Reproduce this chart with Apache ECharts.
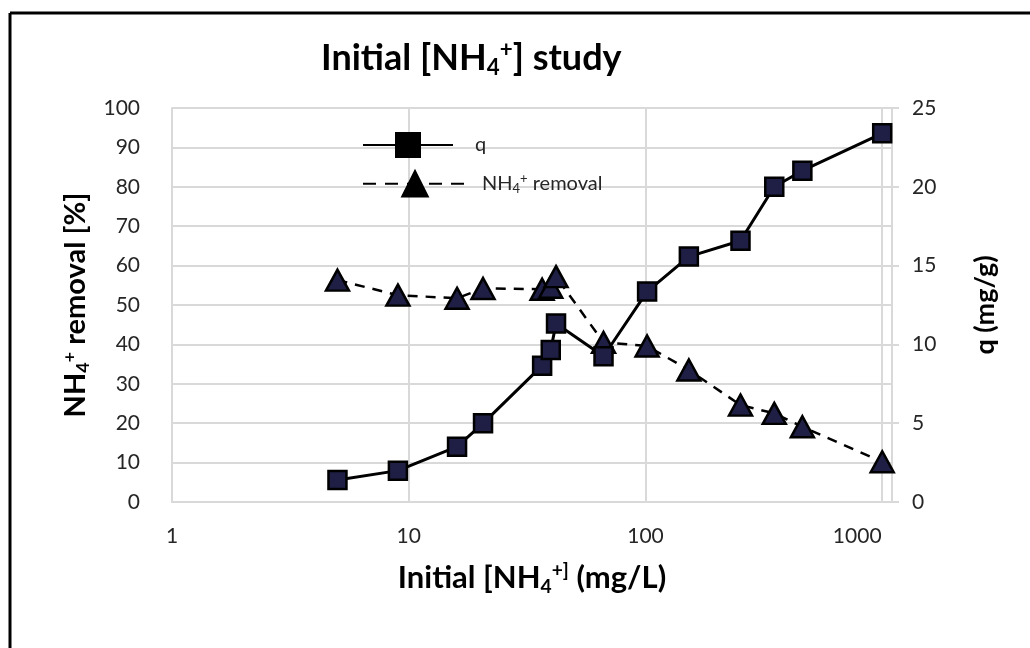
<!DOCTYPE html>
<html>
<head>
<meta charset="utf-8">
<script src="https://cdn.jsdelivr.net/npm/echarts@6/dist/echarts.min.js"></script>
<style>
  html, body { margin: 0; padding: 0; background: #fff; }
  #chart { width: 1030px; height: 648px; }
</style>
</head>
<body>
<div id="chart"></div>
<script>
// Initial ammonium concentration (mg/L)
const initialConc = [5, 9, 16, 20.6, 36.6, 39.8, 41.9, 66.5, 101.6, 152.5, 252, 350, 460, 1000];
// Adsorption capacity q (mg/g)
const qValues = [1.40, 1.99, 3.51, 4.99, 8.65, 9.64, 11.32, 9.25, 13.35, 15.57, 16.58, 20.0, 21.02, 23.39];
// NH4+ removal (%)
const removalValues = [56.3, 52.5, 51.7, 54.2, 54.0, 54.5, 57.2, 40.5, 39.6, 33.5, 24.6, 22.5, 19.1, 10.2];
// Tick labels
const xTicks = [1, 10, 100, 1000];
const leftTicks = [0, 10, 20, 30, 40, 50, 60, 70, 80, 90, 100];
const rightTicks = [0, 5, 10, 15, 20, 25];

const FONT = 'Lato';
const GRID_COLOR = '#d9d9d9';
const MARK_FILL = '#1f1f45';
const LABEL_COLOR = '#262626';

const pair = (xs, ys) => xs.map((x, i) => [x, ys[i]]);

const subSup = (size) => ({
  sub: { fontSize: size * 0.62, fontFamily: FONT, fontWeight: 'bold', color: '#000', padding: [size * 0.55, 0, 0, 0] },
  sup: { fontSize: size * 0.62, fontFamily: FONT, fontWeight: 'bold', color: '#000', padding: [0, 0, size * 0.45, 0] }
});

const chart = echarts.init(document.getElementById('chart'), null, { renderer: 'canvas' });

chart.setOption({
  backgroundColor: '#fff',
  animation: false,
  title: {
    text: '{a|Initial [NH}{sub|4}{sup|+}{a|] study}',
    left: 316,
    top: 32,
    textStyle: {
      rich: Object.assign({ a: { fontSize: 36, fontFamily: FONT, fontWeight: 'bold', color: '#000' } }, subSup(36))
    }
  },
  graphic: [
    { type: 'line', shape: { x1: 10, y1: 13, x2: 1030, y2: 13 }, style: { stroke: '#000', lineWidth: 3 } },
    { type: 'line', shape: { x1: 10, y1: 13, x2: 10, y2: 648 }, style: { stroke: '#000', lineWidth: 3 } }
  ],
  grid: { left: 172, right: 138, top: 108, bottom: 146 },
  legend: [
    {
      data: ['q'], left: 362, top: 132, padding: 0, itemWidth: 90, itemHeight: 30,
      itemStyle: { color: '#000', borderColor: '#000' },
      textStyle: { fontFamily: FONT, fontSize: 20, color: LABEL_COLOR, padding: [0, 0, 0, 17] }
    },
    {
      data: ['NH4+ removal'], left: 362, top: 170, padding: 0, itemWidth: 104, itemHeight: 32,
      itemStyle: { color: '#000', borderColor: '#000' },
      lineStyle: { type: [13, 9] },
      formatter: () => 'NH{sub|4}{sup|+} removal',
      textStyle: {
        fontFamily: FONT, fontSize: 20, color: LABEL_COLOR, padding: [0, 0, 0, 10],
        rich: {
          sub: { fontSize: 13, fontFamily: FONT, color: LABEL_COLOR, padding: [11, 0, 0, 0] },
          sup: { fontSize: 13, fontFamily: FONT, color: LABEL_COLOR, padding: [0, 0, 9, 0] }
        }
      }
    }
  ],
  xAxis: {
    type: 'log',
    logBase: 10,
    min: 1,
    max: 1100,
    name: '{a|Initial [NH}{sub|4}{sup|+]}{a| (mg/L)}',
    nameLocation: 'middle',
    nameGap: 58,
    nameTextStyle: {
      rich: Object.assign({ a: { fontSize: 31, fontFamily: FONT, fontWeight: 'bold', color: '#000' } }, subSup(31))
    },
    axisLine: { show: true, lineStyle: { color: GRID_COLOR, width: 2 } },
    axisTick: { show: false },
    splitLine: { show: true, lineStyle: { color: GRID_COLOR, width: 2 } },
    axisLabel: {
      margin: 24,
      fontFamily: FONT,
      fontSize: 21,
      color: LABEL_COLOR,
      formatter: (v) => {
        const r = Math.round(v);
        if (xTicks.indexOf(r) < 0 || Math.abs(v - r) > 1e-6) return '';
        return r === 1000 ? '{shift|1000}' : String(r);
      },
      rich: { shift: { fontFamily: FONT, fontSize: 21, color: LABEL_COLOR, padding: [0, 50, 0, 0] } }
    }
  },
  yAxis: [
    {
      type: 'value',
      min: leftTicks[0],
      max: leftTicks[leftTicks.length - 1],
      interval: 10,
      position: 'left',
      name: '{a|NH}{sub|4}{sup|+}{a| removal [%]}',
      nameLocation: 'middle',
      nameRotate: 90,
      nameGap: 72,
      nameTextStyle: {
        rich: Object.assign({ a: { fontSize: 29, fontFamily: FONT, fontWeight: 'bold', color: '#000' } }, subSup(29))
      },
      axisLine: { show: true, lineStyle: { color: GRID_COLOR, width: 2 } },
      axisTick: { show: false },
      splitLine: { show: true, lineStyle: { color: GRID_COLOR, width: 2 } },
      axisLabel: { margin: 32, fontFamily: FONT, fontSize: 21, color: LABEL_COLOR }
    },
    {
      type: 'value',
      min: rightTicks[0],
      max: rightTicks[rightTicks.length - 1],
      interval: 5,
      position: 'right',
      name: 'q (mg/g)',
      nameLocation: 'middle',
      nameRotate: 90,
      nameGap: 80,
      nameTextStyle: { fontSize: 27, fontFamily: FONT, fontWeight: 'bold', color: '#000' },
      axisLine: { show: true, lineStyle: { color: GRID_COLOR, width: 2 } },
      axisTick: { show: true, inside: false, length: 7, lineStyle: { color: GRID_COLOR, width: 2 } },
      splitLine: { show: false },
      axisLabel: { margin: 20, fontFamily: FONT, fontSize: 21, color: LABEL_COLOR }
    }
  ],
  series: [
    {
      name: 'NH4+ removal',
      type: 'line',
      yAxisIndex: 0,
      data: pair(initialConc, removalValues),
      symbol: 'triangle',
      symbolSize: [23, 21],
      itemStyle: { color: MARK_FILL, borderColor: '#000', borderWidth: 2.5 },
      lineStyle: { color: '#000', width: 2.5, type: [10, 8] },
      z: 2
    },
    {
      name: 'q',
      type: 'line',
      yAxisIndex: 1,
      data: pair(initialConc, qValues),
      symbol: 'rect',
      symbolSize: 18,
      itemStyle: { color: MARK_FILL, borderColor: '#000', borderWidth: 2.5 },
      lineStyle: { color: '#000', width: 3 },
      z: 3
    }
  ]
});
</script>
</body>
</html>
